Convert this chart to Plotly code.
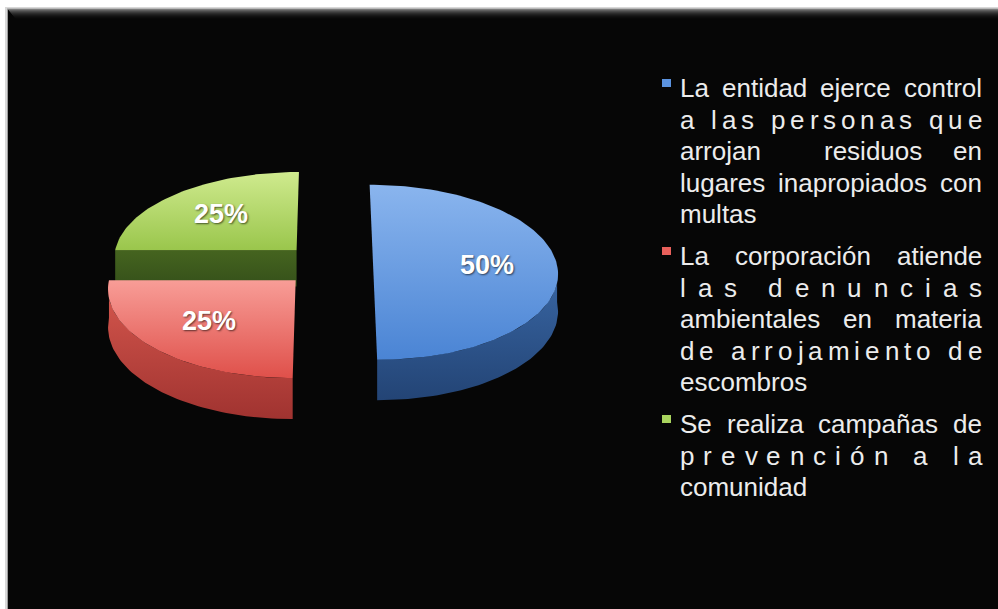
import numpy as np
import plotly.graph_objects as go

# ---- data ----
labels = [
    "La entidad ejerce control a las personas que arrojan residuos en lugares inapropiados con multas",
    "La corporación atiende las denuncias ambientales en materia de arrojamiento de escombros",
    "Se realiza campañas de prevención a la comunidad",
]
values = [50, 25, 25]

# legend text broken into lines, with the justification used on each line
legend_lines = [
    [("La entidad ejerce control", "words"), ("a las personas que", "letters"),
     ("arrojan  residuos en", "words"), ("lugares inapropiados con", "words"), ("multas", "left")],
    [("La corporación atiende", "words"), ("las denuncias", "letters"),
     ("ambientales en materia", "words"), ("de arrojamiento de", "letters"), ("escombros", "left")],
    [("Se realiza campañas de", "words"), ("prevención a la", "letters"), ("comunidad", "left")],
]

# ---- style ----
W, H = 998, 609
top_colors = [("#4a84d4", "#8ab5ee"), ("#df504a", "#f89d97"), ("#9ac64c", "#cfea8e")]
side_colors = [("#234475", "#3a68a6"), ("#a03330", "#d8594f"), ("#35501a", "#45641f")]
legend_colors = ["#5b93e0", "#e8605b", "#a9d45e"]

CX, CY = 328, 265          # pie centre (pixels from top-left)
RX, RY = 184, 87           # top-face radii before perspective
PERSP = 0.083              # perspective strength (far side shrinks)
DEPTH = 37                 # extrusion height
EXPLODE = 0.245            # slice pull-out, in radius units
FONT = "Liberation Sans, Arial, sans-serif"
FS = 26
LABEL_FS = 27

# Arial/Liberation Sans advance widths (1/1000 em)
CW = {c: 556 for c in "abdeghnopquLóñá0123456789"}
CW.update({"c": 500, "f": 278, "i": 222, "j": 222, "l": 222, "m": 833, "r": 333,
           "s": 500, "t": 278, "v": 500, "z": 500, "S": 667, " ": 278, "%": 889, "k": 500, "y": 500})


def tw(s):
    return sum(CW.get(ch, 556) for ch in s) * FS / 1000.0


def Y(py):
    return H - np.asarray(py, dtype=float)


def project(u, v, z=0.0):
    """u: right, v: away from viewer (radius units), z: drop below top face (0..1)."""
    u = np.asarray(u, dtype=float)
    v = np.asarray(v, dtype=float)
    p = 1.0 / (1.0 + PERSP * v)
    return CX + RX * u * p, CY - RY * v * p + DEPTH * z * p


def rim(ou, ov, a0, a1):
    n = max(int(abs(a1 - a0) / 1.5) + 2, 3)
    t = np.radians(np.linspace(a0, a1, n))
    return ou + np.sin(t), ov + np.cos(t)


def poly_trace(px, py, colors):
    return go.Scatter(
        x=np.asarray(px), y=Y(py), mode="lines", fill="toself",
        line=dict(width=0), hoverinfo="skip", showlegend=False,
        fillgradient=dict(type="vertical", colorscale=[[0, colors[0]], [1, colors[1]]]),
    )


fig = go.Figure()

total = float(sum(values))
edges = np.concatenate([[0], np.cumsum(values)]) / total * 360.0
slices = []
for i, v in enumerate(values):
    a0, a1 = edges[i], edges[i + 1]
    b = np.radians((a0 + a1) / 2)
    slices.append((i, a0, a1, EXPLODE * np.sin(b), EXPLODE * np.cos(b)))

annotations = []
# back-to-front drawing order
for i, a0, a1, ou, ov in sorted(slices, key=lambda s: -s[4]):
    # flat cut faces that face the viewer
    for ang, sign in ((a0, -1), (a1, 1)):
        if -np.sin(np.radians(ang)) * sign < -1e-6:
            eu, ev = ou + np.sin(np.radians(ang)), ov + np.cos(np.radians(ang))
            us = np.array([ou, eu, eu, ou, ou])
            vs = np.array([ov, ev, ev, ov, ov])
            zs = np.array([0, 0, 1, 1, 0])
            px, py = project(us, vs, zs)
            fig.add_trace(poly_trace(px, py, side_colors[i]))
    # curved outer wall on the front half
    w0, w1 = max(a0, 90), min(a1, 270)
    if w1 > w0:
        us, vs = rim(ou, ov, w0, w1)
        tx, ty = project(us, vs, 0)
        bx, by = project(us, vs, 1)
        fig.add_trace(poly_trace(np.concatenate([tx, bx[::-1], tx[:1]]),
                                 np.concatenate([ty, by[::-1], ty[:1]]), side_colors[i]))
    # top face
    us, vs = rim(ou, ov, a0, a1)
    px, py = project(np.concatenate([[ou], us, [ou]]), np.concatenate([[ov], vs, [ov]]))
    fig.add_trace(poly_trace(px, py, top_colors[i]))
    # percentage label
    b = np.radians((a0 + a1) / 2)
    lx, ly = project(ou + 0.62 * np.sin(b), ov + 0.62 * np.cos(b))
    annotations.append(dict(
        x=float(lx), y=float(Y(ly)), xref="x", yref="y", showarrow=False,
        text=f"{values[i] / total * 100:.0f}%",
        font=dict(family=FONT, size=LABEL_FS, color="white", weight="bold",
                  shadow="1px 1px 2px rgba(0,0,0,0.6)"),
    ))

# ---- legend (justified text block) ----
X0, X1 = 680, 982
PITCH, GROUP_GAP = 31.5, 10.5
y_line = 88.0
shapes = []


def text_ann(x, y, s):
    return dict(x=x - 2, y=float(Y(y)), xref="x", yref="y", showarrow=False,
                xanchor="left", yanchor="middle", text=s,
                font=dict(family=FONT, size=FS, color="#ececec"))


for g, lines in enumerate(legend_lines):
    shapes.append(dict(type="rect", xref="x", yref="y", x0=662, x1=671,
                       y0=float(Y(y_line - 9)), y1=float(Y(y_line - 1)),
                       fillcolor=legend_colors[g], line=dict(width=0)))
    for text, mode in lines:
        if mode == "left":
            annotations.append(text_ann(X0, y_line, text))
        elif mode == "words":
            nsp = text.count(" ")
            extra = (X1 - X0 - tw(text)) / max(nsp, 1)
            x = X0
            for word in text.split(" "):
                if word:
                    annotations.append(text_ann(x, y_line, word))
                    x += tw(word)
                x += tw(" ") + extra
        else:  # letters
            extra = (X1 - X0 - tw(text)) / max(len(text) - 1, 1)
            x = X0
            for ch in text:
                if ch != " ":
                    annotations.append(text_ann(x, y_line, ch))
                x += tw(ch) + extra
        y_line += PITCH
    y_line += GROUP_GAP

# ---- frame ----
frame = [
    dict(type="rect", x0=5, x1=W, y0=float(Y(H)), y1=float(Y(7)), fillcolor="#d8d8d8", line=dict(width=0)),
    dict(type="rect", x0=7, x1=W, y0=float(Y(H)), y1=float(Y(8.5)), fillcolor="#9a9a9a", line=dict(width=0)),
    dict(type="rect", x0=8, x1=W, y0=float(Y(H)), y1=float(Y(9)), fillcolor="#060606", line=dict(width=0)),
]
bevel = ["#7a7a7a", "#5e5e5e", "#4a4a4a", "#3a3a3a", "#2c2c2c", "#212121", "#181818", "#111111", "#0c0c0c", "#080808"]
for k, c in enumerate(bevel):
    frame.append(dict(type="rect", x0=8 + k * 0.8, x1=W, y0=float(Y(10 + k)), y1=float(Y(9 + k)),
                      fillcolor=c, line=dict(width=0)))
for s in frame:
    s.update(xref="x", yref="y", layer="below")

fig.update_layout(
    width=W, height=H, autosize=False,
    margin=dict(l=0, r=0, t=0, b=0, pad=0),
    paper_bgcolor="white", plot_bgcolor="rgba(0,0,0,0)",
    xaxis=dict(range=[0, W], visible=False, fixedrange=True),
    yaxis=dict(range=[0, H], visible=False, fixedrange=True),
    shapes=frame + shapes,
    annotations=annotations,
    showlegend=False,
)

fig.write_html("out.html")
